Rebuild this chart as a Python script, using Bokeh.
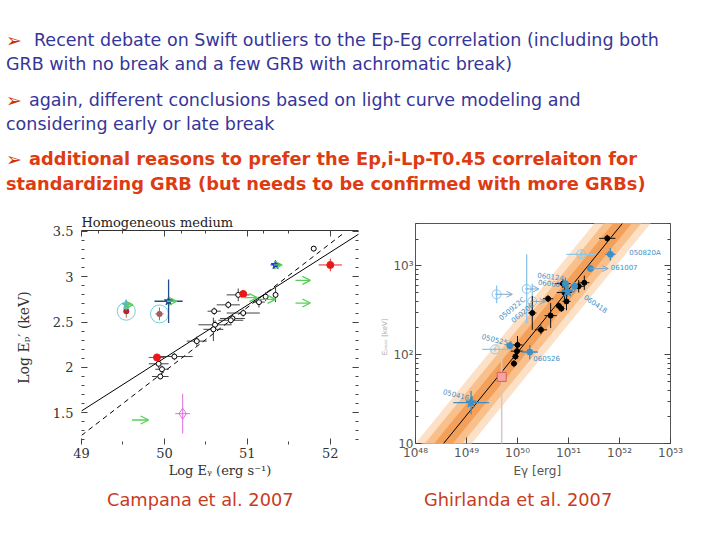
import numpy as np
from bokeh.plotting import figure
from bokeh.models import (Range1d, LinearAxis, LogAxis, FixedTicker, Div, Arrow, OpenHead,
                          ColumnDataSource, CustomJSTickFormatter)
from bokeh.layouts import column, row
from bokeh.embed import file_html
from bokeh.resources import INLINE
from bokeh.core.properties import value

# ---------------- slide text ----------------
bullet1 = ["Recent debate on Swift outliers to the Ep-Eg correlation (including both",
           "GRB with no break and a few GRB with achromatic break)"]
bullet2 = ["again, different conclusions based on light curve modeling and",
           "considering early or late break"]
bullet3 = ["additional reasons to prefer the Ep,i-Lp-T0.45 correlaiton for",
           "standardizing GRB (but needs to be confirmed with more GRBs)"]
caption_left = "Campana et al. 2007"
caption_right = "Ghirlanda et al. 2007"

# ---------------- left panel: Campana et al. 2007 ----------------
camp_title = "Homogeneous medium"
camp_xticks = [49, 50, 51, 52]
camp_yticks = [1.5, 2, 2.5, 3, 3.5]
camp_xlabel = "Log E\u1d67 (erg s\u207b\u00b9)"
camp_ylabel = "Log E\u209a\u2032 (keV)"

camp_blk_x = [51.80, 51.34, 51.14, 51.22, 50.89, 50.77, 50.60, 50.95, 50.82, 50.80, 50.61, 50.59, 50.39, 50.12, 49.93, 49.97, 49.95]
camp_blk_y = [3.31, 2.80, 2.72, 2.78, 2.80, 2.69, 2.62, 2.60, 2.54, 2.52, 2.47, 2.42, 2.29, 2.12, 2.04, 1.98, 1.90]
camp_blk_xe = [0.03, 0.02, 0.07, 0.03, 0.14, 0.14, 0.08, 0.20, 0.15, 0.15, 0.20, 0.12, 0.12, 0.22, 0.12, 0.08, 0.10]
camp_blk_ye = [0.03, 0.08, 0.06, 0.05, 0.07, 0.04, 0.04, 0.04, 0.04, 0.04, 0.05, 0.13, 0.05, 0.04, 0.05, 0.04, 0.03]

camp_red_x = [52.00, 50.95, 49.91]
camp_red_y = [3.13, 2.81, 2.11]
camp_red_xe = [0.14, 0.04, 0.10]
camp_red_ye = [0.07, 0.04, 0.04]

camp_ring_x = [49.54, 49.94]
camp_ring_y = [2.62, 2.59]
camp_ring_xe = [0.02, 0.05]
camp_ring_ye = [0.07, 0.07]

camp_blue_x = [51.34, 50.05, 49.54]
camp_blue_y = [3.13, 2.73, 2.69]
camp_blue_xe = [0.06, 0.17, 0.03]
camp_blue_ye = [0.02, 0.24, 0.06]

camp_lim_x0 = [51.32, 50.03, 49.51, 50.92, 51.14, 51.58, 51.58, 49.61]
camp_lim_x1 = [51.42, 50.15, 49.62, 51.12, 51.34, 51.76, 51.76, 49.81]
camp_lim_y = [3.13, 2.73, 2.69, 2.77, 2.75, 2.96, 2.71, 1.42]

camp_mag_x = [50.22]
camp_mag_y = [1.49]
camp_mag_xe = [0.09]
camp_mag_ye = [0.22]

camp_fit_solid_x = [49.0, 52.36]
camp_fit_solid_y = [1.52, 3.48]
camp_fit_dash_x = [49.0, 52.16]
camp_fit_dash_y = [1.25, 3.48]

# ---------------- right panel: Ghirlanda et al. 2007 (log10 values) ----------------
ghir_xticks = [48, 49, 50, 51, 52, 53]
ghir_yticks = [1, 2, 3]
ghir_xlabel = "E\u03b3    [erg]"
ghir_ylabel = "E\u209a\u2091\u2090\u2096    [keV]"

ghir_fit_lx = [48.55, 52.06]
ghir_fit_ly = [1.00, 3.48]
ghir_band_dex = [0.39, 0.26, 0.13]

ghir_blk_lx = [51.76, 51.31, 51.20, 50.89, 50.92, 50.96, 50.60, 50.81, 50.86, 50.65, 50.46, 50.29, 50.00, 49.99, 49.96, 49.93]
ghir_blk_ly = [3.31, 2.81, 2.77, 2.80, 2.70, 2.60, 2.63, 2.55, 2.52, 2.44, 2.28, 2.47, 2.11, 2.04, 1.98, 1.90]
ghir_blk_xe = [0.16, 0.10, 0.12, 0.15, 0.15, 0.08, 0.10, 0.06, 0.06, 0.12, 0.12, 0.08, 0.10, 0.12, 0.06, 0.06]
ghir_blk_ye = [0.04, 0.08, 0.07, 0.05, 0.08, 0.10, 0.04, 0.04, 0.04, 0.14, 0.05, 0.19, 0.10, 0.05, 0.04, 0.04]

ghir_blu_lx = [51.82, 51.43, 50.94, 51.12, 49.85, 50.24]
ghir_blu_ly = [3.13, 2.97, 2.80, 2.77, 2.10, 2.03]
ghir_blu_xe = [0.10, 0.06, 0.05, 0.06, 0.05, 0.16]
ghir_blu_ye = [0.07, 0.03, 0.07, 0.05, 0.04, 0.08]

ghir_star_lx = [50.98, 49.09]
ghir_star_ly = [2.71, 1.46]
ghir_star_xe = [0.14, 0.35]
ghir_star_ye = [0.06, 0.13]

ghir_open_lx = [51.25, 49.59, 50.18, 50.29, 49.56]
ghir_open_ly = [3.13, 2.68, 2.74, 2.60, 2.06]
ghir_open_xe = [0.29, 0.03, 0.03, 0.04, 0.25]
ghir_open_ye = [0.03, 0.10, 0.39, 0.20, 0.02]

ghir_lim_lx0 = [51.43, 49.59, 50.18, 50.29]
ghir_lim_lx1 = [51.78, 49.90, 50.42, 50.55]
ghir_lim_ly = [2.97, 2.68, 2.74, 2.60]

ghir_sq_lx = [49.69]
ghir_sq_ly = [1.75]
ghir_sq_ylo = [0.8]
ghir_sq_yhi = [1.99]

ghir_names = ["050820A", "061007", "060124", "060607A", "060418", "050922C", "060206", "050525A", "060526", "050416A"]
ghir_name_lx = [52.19, 51.83, 50.39, 50.40, 51.32, 49.66, 49.89, 49.30, 50.31, 48.54]
ghir_name_ly = [3.15, 2.99, 2.90, 2.81, 2.66, 2.40, 2.38, 2.20, 1.96, 1.58]
ghir_name_angle = [0.0, 0.0, -0.12, -0.12, -0.6, 0.7, 0.7, -0.25, 0.0, -0.25]

# ================= styling / drawing =================
SERIF = "DejaVu Serif"
SANS = "DejaVu Sans"


def tick_axis(cls, ticks, minor, labels=True, line=None, **kw):
    ax = cls(ticker=FixedTicker(ticks=ticks, minor_ticks=minor), **kw)
    ax.major_tick_in = 6
    ax.major_tick_out = 0
    ax.minor_tick_in = 3
    ax.minor_tick_out = 0
    ax.major_tick_line_color = "#444444"
    ax.minor_tick_line_color = "#444444"
    ax.axis_line_color = line
    if not labels:
        ax.formatter = CustomJSTickFormatter(code="return ''")
        ax.major_label_standoff = 0
    return ax


def errbars(p, x, y, xe, ye, color, width=1.0, alpha=1.0):
    x = np.asarray(x, float); y = np.asarray(y, float)
    xe = np.asarray(xe, float); ye = np.asarray(ye, float)
    p.segment(x0=x - xe, y0=y, x1=x + xe, y1=y, line_color=color, line_width=width, line_alpha=alpha)
    p.segment(x0=x, y0=y - ye, x1=x, y1=y + ye, line_color=color, line_width=width, line_alpha=alpha)


def logerrbars(p, lx, ly, xe, ye, color, width=1.0, alpha=1.0):
    lx = np.asarray(lx, float); ly = np.asarray(ly, float)
    xe = np.asarray(xe, float); ye = np.asarray(ye, float)
    p.segment(x0=10 ** (lx - xe), y0=10 ** ly, x1=10 ** (lx + xe), y1=10 ** ly,
              line_color=color, line_width=width, line_alpha=alpha)
    p.segment(x0=10 ** lx, y0=10 ** (ly - ye), x1=10 ** lx, y1=10 ** (ly + ye),
              line_color=color, line_width=width, line_alpha=alpha)


# ---------- left figure ----------
p1 = figure(width=378, height=275, x_range=Range1d(49, 52.34), y_range=Range1d(1.15, 3.51),
            x_axis_type=None, y_axis_type=None, output_backend="svg", toolbar_location=None,
            min_border_left=81, min_border_right=20, min_border_top=25, min_border_bottom=35)
p1.outline_line_color = None
p1.title.text = camp_title
p1.title.align = "left"
p1.title.text_font = SERIF
p1.title.text_font_size = "13px"
p1.title.text_font_style = "normal"
p1.title.text_color = "#222222"
p1.title.standoff = 2

xminor = [49.5, 50.5, 51.5]
yminor = [round(v, 2) for v in np.arange(1.2, 3.55, 0.1)]
bx = tick_axis(LinearAxis, camp_xticks, xminor)
bx.axis_label = camp_xlabel
ly = tick_axis(LinearAxis, camp_yticks, yminor)
ly.axis_label = camp_ylabel
for ax in (bx, ly):
    ax.major_label_text_font = SERIF
    ax.major_label_text_font_size = "13px"
    ax.major_label_text_color = "#333333"
    ax.axis_label_text_font = SERIF
    ax.axis_label_text_font_size = "13px"
    ax.axis_label_text_font_style = "normal"
    ax.axis_label_text_color = "#333333"
ly.axis_label_text_font_size = "14px"
bx.major_label_standoff = 3
bx.axis_label_standoff = 2
ly.major_label_standoff = 8
ly.axis_label_standoff = 18
p1.add_layout(bx, "below")
p1.add_layout(ly, "left")
p1.add_layout(tick_axis(LinearAxis, camp_xticks, xminor + [49.2, 50.2, 51.2], labels=False, line="#333333"), "above")
p1.add_layout(tick_axis(LinearAxis, camp_yticks, yminor, labels=False), "right")

# fits
p1.line(camp_fit_solid_x, camp_fit_solid_y, line_color="black", line_width=1)
p1.line(camp_fit_dash_x, camp_fit_dash_y, line_color="black", line_width=1, line_dash="5 4")

errbars(p1, camp_blk_x, camp_blk_y, camp_blk_xe, camp_blk_ye, "#222222", 1.0, 0.85)
p1.scatter(camp_blk_x, camp_blk_y, marker="circle", size=5, fill_color="white", line_color="black", line_width=1)

errbars(p1, camp_red_x, camp_red_y, camp_red_xe, camp_red_ye, "#e82020", 1.0)
p1.scatter(camp_red_x, camp_red_y, marker="circle", size=7, fill_color="#e81818", line_color="#e81818")

errbars(p1, camp_ring_x, camp_ring_y, camp_ring_xe, camp_ring_ye, "#a06060", 1.0)
p1.scatter(camp_ring_x, camp_ring_y, marker="circle", size=18, fill_color=None, line_color="#6fd0dc", line_width=1)
p1.scatter(camp_ring_x, camp_ring_y, marker="circle", size=6, fill_color=["#b02828", "#a06060"], line_color=None)

blue_cols = ["#2030e0", "#204c8c", "#60b0e0"]
errbars(p1, camp_blue_x, camp_blue_y, camp_blue_xe, camp_blue_ye, blue_cols, 1.3)
p1.scatter(camp_blue_x, camp_blue_y, marker="star", size=9, fill_color=blue_cols, line_color=blue_cols)

lim_src = ColumnDataSource(dict(x0=camp_lim_x0, x1=camp_lim_x1, y=camp_lim_y))
p1.add_layout(Arrow(end=OpenHead(size=8, line_color="#55d055", line_width=1.3),
                    x_start="x0", y_start="y", x_end="x1", y_end="y", source=lim_src,
                    line_color="#55d055", line_width=1.3))

errbars(p1, camp_mag_x, camp_mag_y, camp_mag_xe, camp_mag_ye, "#e070e0", 1.0)
p1.scatter(camp_mag_x, camp_mag_y, marker="diamond", size=11, fill_color=None, line_color="#e070e0", line_width=1)

# ---------- right figure ----------
p2 = figure(width=342, height=275, x_axis_type="log", y_axis_type="log",
            x_range=Range1d(1e48, 1e53), y_range=Range1d(10, 3000),
            output_backend="svg", toolbar_location=None,
            min_border_left=35, min_border_right=50, min_border_top=18, min_border_bottom=35)
p2.title = None
p2.grid.visible = False
p2.outline_line_color = "#555555"

sup_js = """
const s = {'0':'\u2070','1':'\u00b9','2':'\u00b2','3':'\u00b3','4':'\u2074','5':'\u2075','6':'\u2076','7':'\u2077','8':'\u2078','9':'\u2079'};
const e = Math.round(Math.log10(tick));
if (e == 1) return '10';
return '10' + String(e).split('').map(c => s[c]).join('');
"""
gx_major = [10.0 ** v for v in ghir_xticks]
gy_major = [10.0 ** v for v in ghir_yticks]
gy_minor = [m * 10.0 ** d for d in (1, 2) for m in range(2, 10)] + [2000.0, 3000.0]

xa = p2.xaxis[0]
ya = p2.yaxis[0]
for ax, tk, mn in ((xa, gx_major, []), (ya, gy_major, gy_minor)):
    ax.ticker = FixedTicker(ticks=tk, minor_ticks=mn)
    ax.formatter = CustomJSTickFormatter(code=sup_js)
    ax.major_tick_in = 6
    ax.major_tick_out = 0
    ax.minor_tick_in = 3
    ax.minor_tick_out = 0
    ax.major_tick_line_color = "#444444"
    ax.minor_tick_line_color = "#444444"
    ax.axis_line_color = None
    ax.major_label_text_font = SANS
    ax.major_label_text_font_size = "12px"
    ax.major_label_text_color = "#555555"
    ax.major_label_standoff = 2
    ax.axis_label_text_font = SANS
    ax.axis_label_text_font_style = "normal"
xa.axis_label = ghir_xlabel
xa.axis_label_text_font_size = "12px"
xa.axis_label_text_color = "#555555"
xa.axis_label_standoff = 1
ya.axis_label = ghir_ylabel
ya.axis_label_text_font_size = "7px"
ya.axis_label_text_color = "#aaaaaa"
ya.axis_label_standoff = 1
p2.add_layout(tick_axis(LogAxis, gy_major, gy_minor, labels=False), "right")

# scatter bands around the best fit
fit_slope = (ghir_fit_ly[1] - ghir_fit_ly[0]) / (ghir_fit_lx[1] - ghir_fit_lx[0])
bx_l = np.array([48.0, 53.0])
line_l = ghir_fit_ly[0] + fit_slope * (bx_l - ghir_fit_lx[0])
for w, col in zip(ghir_band_dex, ["#fde1c6", "#f9c08c", "#f3a05a"]):
    p2.varea(x=10 ** bx_l, y1=10 ** (line_l - w), y2=10 ** (line_l + w), fill_color=col, fill_alpha=1.0)
p2.line(10 ** np.array(ghir_fit_lx), 10 ** np.array(ghir_fit_ly), line_color="black", line_width=1)

# red square with its error bar
p2.segment(x0=10 ** np.array(ghir_sq_lx), y0=10 ** np.array(ghir_sq_ylo),
           x1=10 ** np.array(ghir_sq_lx), y1=10 ** np.array(ghir_sq_yhi), line_color="#d9c6c6", line_width=1.5)
p2.scatter(10 ** np.array(ghir_sq_lx), 10 ** np.array(ghir_sq_ly), marker="square", size=9,
           fill_color="#f6a3a3", line_color="#e05a5a")

BLUE = "#3d8fc6"
LBLUE = "#8cc6ea"
logerrbars(p2, ghir_open_lx, ghir_open_ly, ghir_open_xe, ghir_open_ye, LBLUE, 1.3)
p2.scatter(10 ** np.array(ghir_open_lx), 10 ** np.array(ghir_open_ly), marker="circle", size=9,
           fill_color=None, line_color=LBLUE, line_width=1)
glim = ColumnDataSource(dict(x0=10 ** np.array(ghir_lim_lx0), x1=10 ** np.array(ghir_lim_lx1),
                             y=10 ** np.array(ghir_lim_ly)))
p2.add_layout(Arrow(end=OpenHead(size=6, line_color="#7fa9c9", line_width=1),
                    x_start="x0", y_start="y", x_end="x1", y_end="y", source=glim,
                    line_color="#7fa9c9", line_width=1))

logerrbars(p2, ghir_blk_lx, ghir_blk_ly, ghir_blk_xe, ghir_blk_ye, "#111111", 1.0)
p2.scatter(10 ** np.array(ghir_blk_lx), 10 ** np.array(ghir_blk_ly), marker="circle", size=5,
           fill_color="black", line_color="black")

logerrbars(p2, ghir_blu_lx, ghir_blu_ly, ghir_blu_xe, ghir_blu_ye, BLUE, 1.3)
p2.scatter(10 ** np.array(ghir_blu_lx), 10 ** np.array(ghir_blu_ly), marker="circle", size=6,
           fill_color=BLUE, line_color=BLUE)
logerrbars(p2, ghir_star_lx, ghir_star_ly, ghir_star_xe, ghir_star_ye, BLUE, 1.3)
p2.scatter(10 ** np.array(ghir_star_lx), 10 ** np.array(ghir_star_ly), marker="star", size=11,
           fill_color=BLUE, line_color=BLUE)

p2.text(x=10 ** np.array(ghir_name_lx), y=10 ** np.array(ghir_name_ly), text=ghir_names,
        angle=ghir_name_angle, text_font=value(SANS), text_font_size="7px", text_color=BLUE,
        text_baseline="middle", text_align="left")

# ---------- text blocks ----------
BLUE_TXT = "#35359a"
RED_TXT = "#dd3c12"


def arrow_at(top):
    return (f'<div style="position:absolute;top:{top}px;left:6px;color:#cc3300;font-size:19px;'
            f'line-height:24px">&#10146;</div>')


def abs_line(top, left, txt, color, bold=False):
    size = "17.8px" if bold else "17.5px"
    return (f'<div style="position:absolute;top:{top}px;left:{left}px;white-space:nowrap;font-size:{size};'
            f'color:{color};font-weight:{"bold" if bold else "normal"}">{txt}</div>')


html = ('<div style="position:relative;width:712px;height:205px;font-family:\'DejaVu Sans\';'
        'font-size:17.5px;line-height:24px">')
html += arrow_at(28)
html += abs_line(28, 34, bullet1[0], BLUE_TXT)
html += abs_line(52, 6, bullet1[1], BLUE_TXT)
html += arrow_at(88)
html += abs_line(88, 29, bullet2[0], BLUE_TXT)
html += abs_line(112, 6, bullet2[1], BLUE_TXT)
html += arrow_at(147)
html += abs_line(147, 29, bullet3[0], RED_TXT, True)
html += abs_line(172, 6, bullet3[1], RED_TXT, True)
html += '</div>'
top_div = Div(text=html, width=712, height=205, margin=0)

cap_html = ('<div style="position:relative;width:712px;height:56px;font-family:\'DejaVu Sans\';'
            'font-size:17.8px;line-height:24px;color:#c83c1e">')
cap_html += f'<div style="position:absolute;top:8px;left:107px;white-space:nowrap">{caption_left}</div>'
cap_html += f'<div style="position:absolute;top:8px;left:424px;white-space:nowrap">{caption_right}</div>'
cap_html += '</div>'
bot_div = Div(text=cap_html, width=712, height=56, margin=0)

layout = column(top_div, row(column(p1), column(p2)), bot_div)
open("out.html", "w").write(file_html(layout, INLINE))
